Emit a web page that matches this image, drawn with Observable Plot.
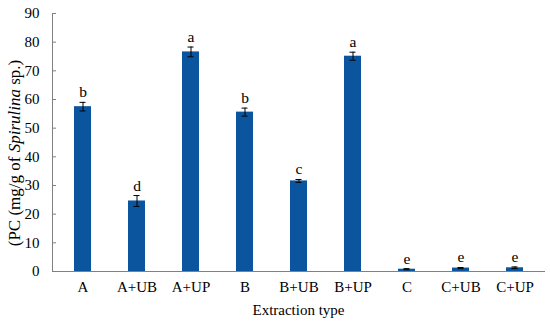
<!DOCTYPE html>
<html>
<head>
<meta charset="utf-8">
<script src="https://cdn.jsdelivr.net/npm/d3@7"></script>
<script src="https://cdn.jsdelivr.net/npm/@observablehq/plot@0.6"></script>
<style>
  html, body { margin: 0; padding: 0; background: #fff; }
  #chart { width: 550px; height: 328px; }
</style>
</head>
<body>
<div id="chart"></div>
<script>
const categories = ["A", "A+UB", "A+UP", "B", "B+UB", "B+UP", "C", "C+UB", "C+UP"];
const values = [57.5, 24.6, 76.6, 55.6, 31.6, 75.1, 0.8, 1.2, 1.3];
const errors = [1.5, 1.9, 1.7, 1.4, 0.5, 1.4, 0.2, 0.2, 0.3];
const letters = ["b", "d", "a", "b", "c", "a", "e", "e", "e"];
const yTicks = [0, 10, 20, 30, 40, 50, 60, 70, 80, 90];

const data = categories.map((c, i) => ({cat: c, v: values[i], e: errors[i], lab: letters[i]}));

const font = "Liberation Serif, Times New Roman, serif";
const W = 550, H = 328, mL = 52, mR = 5;

const plot = Plot.plot({
  width: W,
  height: H,
  marginLeft: mL,
  marginRight: mR,
  marginTop: 13,
  marginBottom: 57,
  style: {fontFamily: font, fontSize: "15px", color: "#000", background: "#fff"},
  x: {domain: categories, paddingInner: 0.69, paddingOuter: 0.345, label: null},
  y: {domain: [0, 90], ticks: yTicks, label: null, axis: null},
  marks: [
    Plot.barY(data, {x: "cat", y: "v", fill: "#0b559f"}),
    Plot.ruleX(data, {x: "cat", y1: d => d.v - d.e, y2: d => d.v + d.e, stroke: "#000", strokeWidth: 1}),
    Plot.tickY(data, {x: "cat", y: d => d.v + d.e, stroke: "#000", strokeWidth: 1, insetLeft: 5.5, insetRight: 5.5}),
    Plot.tickY(data, {x: "cat", y: d => d.v - d.e, stroke: "#000", strokeWidth: 1, insetLeft: 5.5, insetRight: 5.5}),
    Plot.text(data, {x: "cat", y: d => d.v + d.e, text: "lab", lineAnchor: "bottom", dy: -5, fontSize: 15.5, fill: "#000"}),
    Plot.tickY(yTicks, {y: d => d, stroke: "#808080", insetRight: W - mL - mR - 4}),
    Plot.ruleY([0], {stroke: "#808080"}),
    Plot.frame({anchor: "left", stroke: "#808080"}),
    Plot.text(yTicks, {y: d => d, text: d => String(d), frameAnchor: "left", textAnchor: "end", dx: -13, fontSize: 15, fill: "#000"}),
    Plot.axisX({tickSize: 0, tickPadding: 10, fontSize: 15, label: null})
  ]
});

document.getElementById("chart").appendChild(plot);

const svg = d3.select(plot);
svg.append("text")
  .attr("x", (W - mL - mR) / 2 + mL)
  .attr("y", 315)
  .attr("text-anchor", "middle")
  .attr("font-family", font)
  .attr("font-size", 15)
  .attr("fill", "#000")
  .text("Extraction type");

const yl = svg.append("text")
  .attr("transform", `translate(20, 153) rotate(-90)`)
  .attr("text-anchor", "middle")
  .attr("font-family", font)
  .attr("font-size", 17)
  .attr("fill", "#000");
yl.append("tspan").text("(PC (mg/g of ");
yl.append("tspan").attr("font-style", "italic").text("Spirulina");
yl.append("tspan").text(" sp.)");
</script>
</body>
</html>
